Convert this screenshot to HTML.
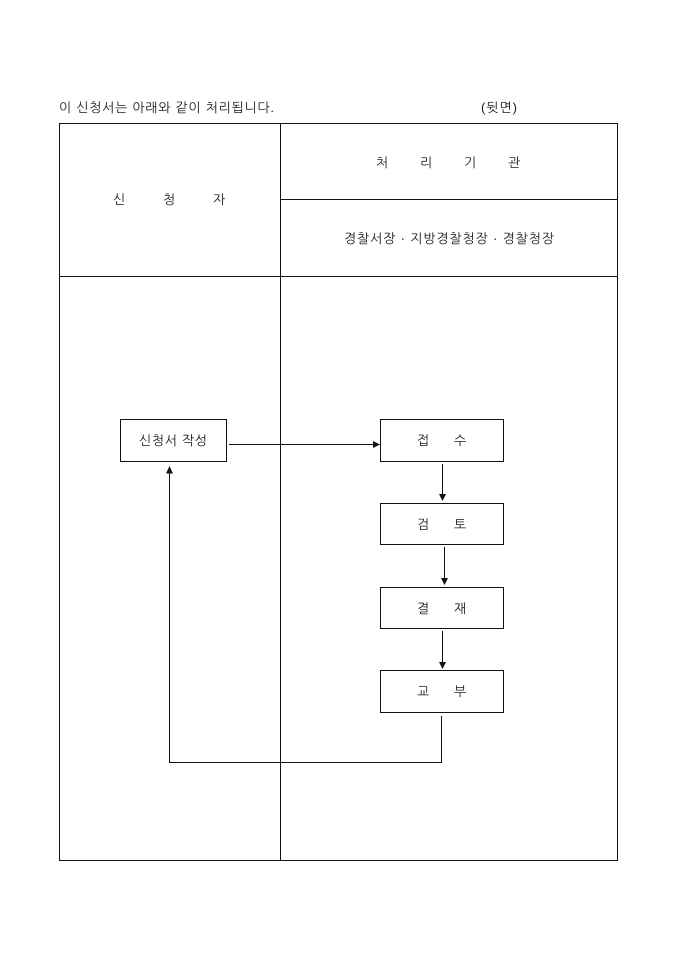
<!DOCTYPE html>
<html lang="ko">
<head>
<meta charset="utf-8">
<title>처리 절차</title>
<style>
html,body{margin:0;padding:0;background:#fff;width:680px;height:962px;overflow:hidden}
svg{display:block}
text{font-family:"Liberation Sans","NanumGothic","Noto Sans CJK KR",sans-serif;font-size:13px;fill:#1a1a1a}
</style>
</head>
<body>
<svg width="680" height="962" viewBox="0 0 680 962" xmlns="http://www.w3.org/2000/svg">
<g fill="none" stroke="#111" stroke-width="1" shape-rendering="crispEdges">
<rect x="59.5" y="123.5" width="558" height="737"/>
<path d="M280.500 123.500V860.500M280.500 199.500H617.500M59.500 276.500H617.500"/>
<rect x="120.500" y="419.500" width="106" height="42"/>
<rect x="380.500" y="419.500" width="123" height="42"/>
<rect x="380.500" y="503.500" width="123" height="41"/>
<rect x="380.500" y="587.500" width="123" height="41"/>
<rect x="380.500" y="670.500" width="123" height="42"/>
<path d="M229 444.500H374M442.500 464V495M444.500 547V579M442.500 631V663M441.500 716V762.500H169.500V473"/>
</g>
<g fill="#111">
<path d="M380 444.500L373 441V448Z"/>
<path d="M442.500 501L439 494H446Z"/>
<path d="M444.500 585L441 578H448Z"/>
<path d="M442.500 669L439 662H446Z"/>
<path d="M169.500 466L166 473.500H173Z"/>
</g>
<text x="59" y="112" textLength="215" lengthAdjust="spacing">이 신청서는 아래와 같이 처리됩니다.</text>
<text x="481" y="112" textLength="36" lengthAdjust="spacing">(뒷면)</text>
<text x="113" y="204">신</text>
<text x="163" y="204">청</text>
<text x="213" y="204">자</text>
<text x="376" y="167">처</text>
<text x="420" y="167">리</text>
<text x="464" y="167">기</text>
<text x="508" y="167">관</text>
<text x="344" y="243" textLength="210" lengthAdjust="spacing">경찰서장 · 지방경찰청장 · 경찰청장</text>
<text x="139" y="445" textLength="68" lengthAdjust="spacing">신청서 작성</text>
<text x="417" y="445">접</text><text x="454" y="445">수</text>
<text x="417" y="529">검</text><text x="454" y="529">토</text>
<text x="417" y="613">결</text><text x="454" y="613">재</text>
<text x="417" y="696">교</text><text x="454" y="696">부</text>
</svg>
</body>
</html>
